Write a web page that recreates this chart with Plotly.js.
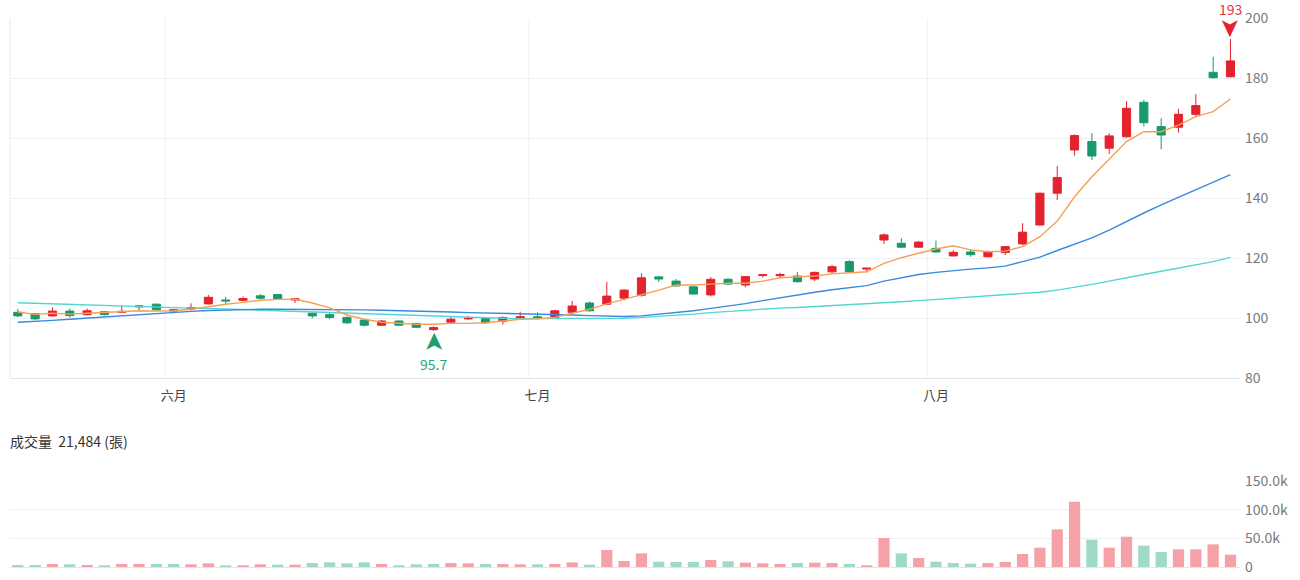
<!DOCTYPE html>
<html><head><meta charset="utf-8">
<script src="https://cdn.plot.ly/plotly-3.0.1.min.js"></script>
<style>html,body{margin:0;padding:0;background:#fff}#chart{width:1300px;height:580px}</style>
</head><body><div id="chart"></div>
<script>
// ---- data ----
const openP  = [101.9,101.4,100.7,102.3,101.1,102.1,101.9,103.7,104.6,102.8,103.0,104.7,106.0,105.9,107.4,107.8,106.0,101.6,101.1,100.2,99.3,97.6,99.0,98.2,96.1,98.6,99.7,99.8,98.9,100.0,100.4,100.2,101.9,105.0,104.6,106.6,107.6,113.7,112.3,110.4,107.7,112.9,111.0,114.2,114.1,114.0,113.0,115.4,118.8,116.3,126.0,124.9,123.6,123.2,120.7,122.0,120.4,121.8,124.7,131.0,141.6,156.0,158.8,156.6,160.4,171.9,163.8,163.6,167.9,181.9,180.4];
const highP  = [103.0,101.6,103.6,103.2,103.2,102.3,104.3,104.1,104.8,103.0,104.9,107.7,107.0,107.2,108.0,108.0,106.5,101.8,101.6,100.5,99.5,99.3,99.2,98.4,97.2,100.3,100.7,100.0,100.5,102.1,101.9,102.7,105.7,105.5,112.1,109.6,114.9,114.1,113.0,110.6,113.7,113.3,114.0,114.6,115.1,115.4,115.5,117.7,119.3,116.7,128.2,126.6,125.6,125.8,122.6,122.9,122.5,124.0,131.6,141.8,150.7,161.2,161.6,161.6,172.3,172.7,166.6,169.7,174.6,187.1,193.0];
const lowP   = [100.3,99.3,100.4,100.1,100.9,100.8,101.6,102.2,102.5,101.6,102.5,104.5,104.7,105.5,106.0,106.0,105.0,99.9,99.6,98.0,97.1,97.4,97.4,96.6,95.7,98.3,99.4,98.2,97.8,99.4,99.5,100.0,101.6,102.2,104.3,105.9,107.1,112.0,110.5,107.8,107.2,111.0,110.2,113.5,113.2,111.8,112.3,114.7,115.2,115.2,124.7,123.3,123.3,121.7,120.5,120.4,120.2,121.0,124.3,130.8,139.3,154.1,152.7,154.7,160.1,163.8,156.2,161.8,167.1,179.7,180.2];
const closeP = [100.7,99.7,102.3,100.8,102.4,101.1,102.2,104.0,102.7,102.3,103.4,106.9,105.7,106.5,106.6,106.3,106.4,100.7,100.2,98.4,97.6,99.0,97.6,96.9,96.8,99.6,99.9,98.4,100.2,100.4,100.0,102.4,104.0,102.4,107.3,109.3,113.4,113.0,110.7,108.0,112.9,111.3,113.8,114.4,114.5,112.1,115.2,117.1,115.4,116.6,127.7,123.6,125.3,122.0,121.9,121.1,122.1,123.8,128.6,141.6,146.8,160.8,154.0,160.7,169.9,165.1,161.0,167.9,170.8,180.1,185.7];
const ma5  = [102.0,101.2,101.6,101.3,101.6,101.8,102.1,102.4,102.3,102.4,102.9,103.8,104.6,105.2,105.9,106.2,106.3,105.0,103.4,101.0,99.6,98.6,98.2,97.9,97.9,98.2,98.2,98.4,99.0,99.6,99.7,100.2,101.6,102.9,104.7,106.2,107.7,109.3,111.0,111.0,111.3,111.6,111.6,112.3,113.4,113.6,114.0,114.7,115.1,115.4,118.2,120.1,121.6,123.0,124.1,122.7,122.1,122.3,123.8,127.1,132.3,140.4,147.1,152.9,158.8,162.1,162.1,164.3,167.1,168.8,173.0];
const ma20 = [98.6,98.8,99.2,99.6,100.0,100.3,100.8,101.2,101.6,101.9,102.2,102.5,102.7,102.8,102.9,102.9,102.9,102.9,102.9,102.8,102.7,102.6,102.5,102.3,102.2,102.0,101.8,101.7,101.6,101.4,101.3,101.2,101.0,100.8,100.6,100.5,100.7,101.2,101.7,102.4,103.2,103.9,104.8,105.8,106.8,107.7,108.6,109.4,110.0,110.8,112.3,113.5,114.5,115.2,115.8,116.3,116.7,117.3,118.8,120.3,122.5,124.5,126.7,129.3,132.2,135.0,137.7,140.2,142.7,145.3,147.8];
const ma60 = [105.1,104.9,104.7,104.6,104.4,104.2,104.1,103.9,103.7,103.5,103.3,103.2,103.0,102.9,102.7,102.4,102.2,102.0,101.9,101.7,101.5,101.2,101.0,100.7,100.5,100.3,100.2,100.0,99.9,99.8,99.8,99.7,99.7,99.7,99.7,99.9,100.2,100.5,100.8,101.3,101.8,102.2,102.7,103.0,103.3,103.5,103.8,104.0,104.3,104.6,105.0,105.4,105.8,106.2,106.5,106.8,107.2,107.6,108.0,108.6,109.3,110.2,111.2,112.3,113.5,114.5,115.6,116.6,117.7,118.8,120.2];
const volume = [3500,3500,5200,4700,3500,2900,5200,5200,5200,5200,4700,6400,2900,2900,4700,4100,4100,7000,8100,6400,8100,5200,2900,4700,5200,7000,6400,5200,5200,4700,4700,5200,8100,4100,29700,10500,23800,9300,8700,8700,12200,9900,7600,6400,5200,7000,7600,7000,5200,2900,50600,23800,15700,9300,7000,5800,7000,8700,22700,33700,65700,114000,47700,33700,52900,37200,26200,30800,30800,39500,21484];
const monthLabels = ['六月','七月','八月'];
const monthStartIndex = [9,30,53];
const priceTicks = [80,100,120,140,160,180,200];
const volTicks = [0,50000,100000,150000];
const volTickText = ['0','50.0k','100.0k','150.0k'];

// ---- styling ----
const RED = '#e4222e', GREEN = '#17996a';
const VRED = '#f4a2a8', VGREEN = '#9fdac4';
const GRID = '#eef0f5';
const W = 1300, H = 580;
const plotL = 10, plotR = 1240;
const mainTop = 18, mainBot = 378, volTop = 481, volBot = 567;
const idx = closeP.map((_, i) => i);
const n = idx.length;
const xr = [-0.45, n - 1 + 0.55];
const yRange = [80, 200];

const volColors = volume.map((v, i) => {
  const up = i === 0 ? closeP[i] >= openP[i] : closeP[i] >= closeP[i - 1];
  return up ? VRED : VGREEN;
});

let iMax = 0, iMin = 0;
highP.forEach((h, i) => { if (h > highP[iMax]) iMax = i; });
lowP.forEach((l, i) => { if (l < lowP[iMin]) iMin = i; });
const fmt = v => String(Number(v.toFixed(1)));

const font = 'Noto Sans CJK TC, Noto Sans, sans-serif';

const traces = [
  {type:'scatter', mode:'lines', x:idx, y:ma60, line:{color:'#52d6cf', width:1.4}, hoverinfo:'skip', xaxis:'x', yaxis:'y'},
  {type:'scatter', mode:'lines', x:idx, y:ma20, line:{color:'#3a88e0', width:1.4}, hoverinfo:'skip', xaxis:'x', yaxis:'y'},
  {type:'scatter', mode:'lines', x:idx, y:ma5, line:{color:'#f5a052', width:1.4}, hoverinfo:'skip', xaxis:'x', yaxis:'y'},
  {type:'candlestick', x:idx, open:openP, high:highP, low:lowP, close:closeP,
   increasing:{line:{color:RED, width:1}, fillcolor:RED},
   decreasing:{line:{color:GREEN, width:1}, fillcolor:GREEN},
   whiskerwidth:0, hoverinfo:'skip', xaxis:'x', yaxis:'y'},
  {type:'bar', x:idx, y:volume, marker:{color:volColors}, hoverinfo:'skip', xaxis:'x2', yaxis:'y2'}
];

const shapes = monthStartIndex.map(m => ({
  type:'line', xref:'x', yref:'y domain', x0:m - 0.5, x1:m - 0.5, y0:0, y1:1,
  line:{color:GRID, width:1}, layer:'below'
}));
shapes.push({type:'line', xref:'x domain', yref:'y domain', x0:0, x1:0, y0:0, y1:1, line:{color:'#e6e9ef', width:1}, layer:'below'});

// notched arrow head glyphs pointing at the extreme high / low
const arrowGlyph = (i, y, dir, color) => ({
  xref:'x', yref:'y', x:i, y:y, text:'➤', showarrow:false, borderpad:0,
  textangle: dir < 0 ? 90 : -90, yanchor:'middle', xanchor:'center',
  yshift: dir < 0 ? 11 : -11,
  font:{size:25, color:color, family:'DejaVu Sans'}
});

const layout = {
  width:W, height:H,
  margin:{l:0, r:0, t:0, b:0},
  paper_bgcolor:'#fff', plot_bgcolor:'#fff',
  showlegend:false,
  bargap:0.35, boxgap:0.33,
  font:{family:font, color:'#555'},
  xaxis:{domain:[plotL / W, plotR / W], range:xr, anchor:'y',
    tickmode:'array', tickvals:monthStartIndex, ticktext:monthLabels, ticklabelstandoff:5,
    tickfont:{size:13, color:'#444', family:font}, ticks:'', showgrid:false, zeroline:false,
    showline:true, linecolor:'#dfe3ea', linewidth:1, rangeslider:{visible:false}, fixedrange:true},
  yaxis:{domain:[1 - mainBot / H, 1 - mainTop / H], range:yRange, side:'right', anchor:'x',
    tickmode:'array', tickvals:priceTicks, tickfont:{size:14, color:'#7a7a7a', family:font}, ticklabelstandoff:4,
    gridcolor:GRID, zeroline:false, showline:false, ticks:'', fixedrange:true},
  xaxis2:{domain:[plotL / W, plotR / W], range:xr, anchor:'y2', showticklabels:false,
    showgrid:false, zeroline:false, showline:true, linecolor:'#e2e5ec', ticks:'', fixedrange:true},
  yaxis2:{domain:[1 - volBot / H, 1 - volTop / H], range:[0, 150000], side:'right', anchor:'x2',
    tickmode:'array', tickvals:volTicks, ticktext:volTickText, ticklabelstandoff:4,
    tickfont:{size:14, color:'#7a7a7a', family:font}, gridcolor:GRID, zeroline:false, ticks:'', fixedrange:true},
  shapes:shapes,
  annotations:[
    arrowGlyph(iMax, highP[iMax], -1, RED),
    arrowGlyph(iMin, lowP[iMin], 1, '#1f9e6e'),
    {xref:'x', yref:'y', x:iMax, y:highP[iMax], text:fmt(highP[iMax]), showarrow:false, borderpad:0,
     yanchor:'bottom', yshift:19, font:{size:14, color:'#e4343f', family:font}},
    {xref:'x', yref:'y', x:iMin, y:lowP[iMin], text:fmt(lowP[iMin]), showarrow:false, borderpad:0,
     yanchor:'top', yshift:-22, font:{size:14, color:'#23a777', family:font}},
    {xref:'paper', yref:'paper', x:8 / W, y:1 - 441 / H, xanchor:'left', yanchor:'middle', showarrow:false,
     text:'成交量  ' + volume[n - 1].toLocaleString('en-US') + ' (張)',
     font:{size:14, color:'#333', family:font}}
  ]
};

Plotly.newPlot('chart', traces, layout, {displayModeBar:false, staticPlot:true});
</script>
</body></html>
